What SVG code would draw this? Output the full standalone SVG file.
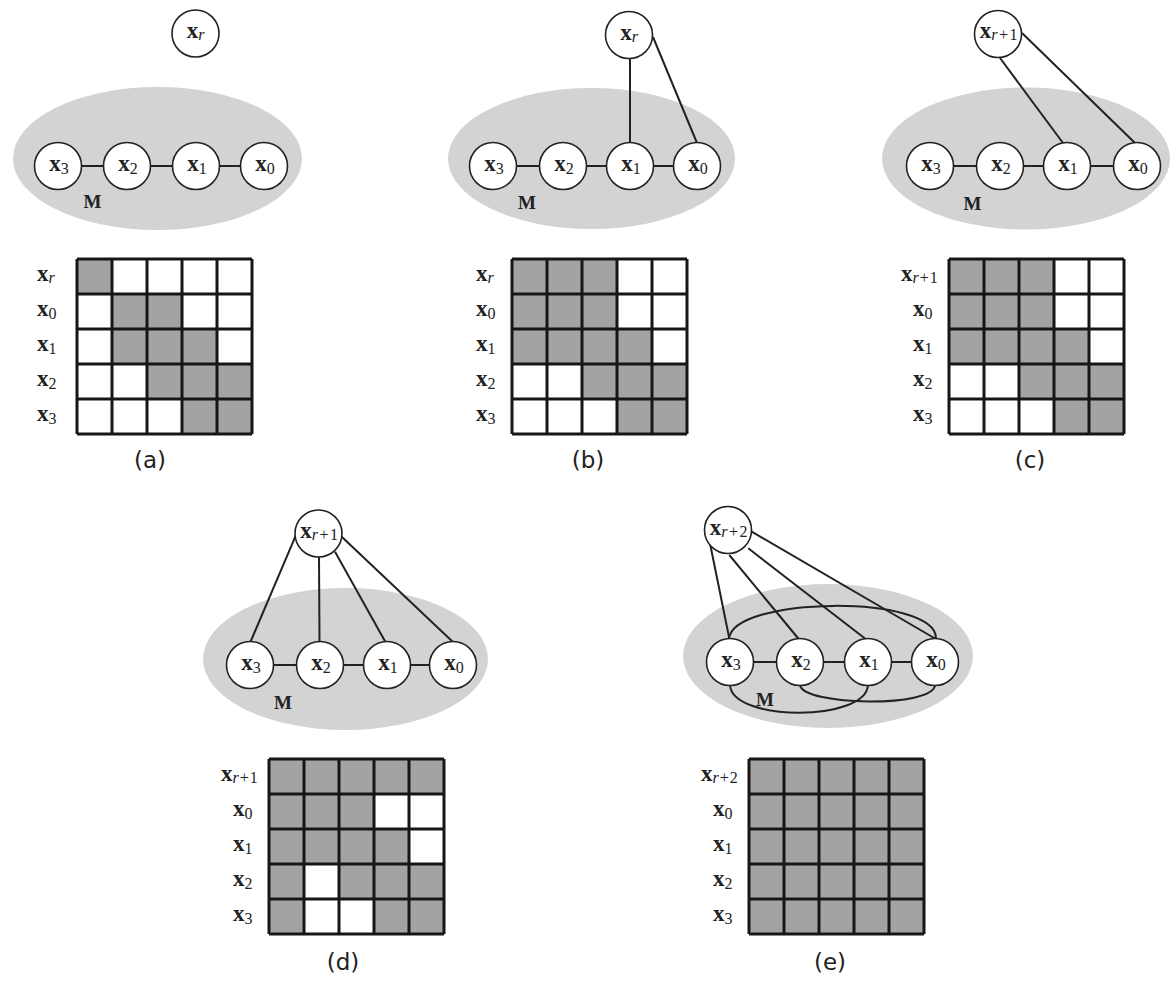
<svg xmlns="http://www.w3.org/2000/svg" xmlns:xlink="http://www.w3.org/1999/xlink" width="1171" height="981" viewBox="0 0 1171 981">
<style>
.bg{fill:#ffffff}
.ell{fill:#d3d3d3;stroke:none}
.node{fill:#ffffff;stroke:#222;stroke-width:1.6}
.edge{stroke:#222;stroke-width:2;fill:none}
.nl{font-family:"Liberation Serif",serif;font-weight:bold;font-size:23px;text-anchor:middle;fill:#222}
.ml{font-family:"Liberation Serif",serif;font-weight:bold;font-size:23px;fill:#222}
.sub{font-size:16px;font-weight:normal}
.it{font-style:italic}
.M{font-family:"Liberation Serif",serif;font-weight:bold;font-size:19px;text-anchor:middle;fill:#222}
.cap{font-family:"DejaVu Sans",sans-serif;font-size:23px;text-anchor:middle;fill:#222}
.g{fill:#a3a3a3}
.w{fill:#ffffff}
.grid{stroke:#161616;stroke-width:3;fill:none}
</style>
<defs>
<path id="grid" class="grid" d="M0,0V175M35,0V175M70,0V175M105,0V175M140,0V175M175,0V175M0,0H175M0,35H175M0,70H175M0,105H175M0,140H175M0,175H175"/>
</defs>
<rect class="bg" x="0" y="0" width="1171" height="981"/>

<!-- ellipses (sets M) -->
<g id="sets">
<ellipse class="ell" cx="157.5" cy="158.5" rx="144.5" ry="71.5"/>
<ellipse class="ell" cx="591.5" cy="158.5" rx="143.5" ry="70.5"/>
<ellipse class="ell" cx="1026" cy="158.5" rx="144" ry="71"/>
<ellipse class="ell" cx="345.5" cy="659" rx="142.5" ry="71"/>
<ellipse class="ell" cx="828" cy="656" rx="145" ry="72"/>
<text class="M" x="92.5" y="208">M</text>
<text class="M" x="527" y="209">M</text>
<text class="M" x="972.5" y="210">M</text>
<text class="M" x="283" y="709">M</text>
<text class="M" x="765" y="706">M</text>
</g>

<!-- connectors -->
<g id="connectors">
<!-- (a) -->
<line class="edge" x1="81.5" y1="166" x2="103.5" y2="166"/>
<line class="edge" x1="150.5" y1="166" x2="172.5" y2="166"/>
<line class="edge" x1="219.5" y1="166" x2="240.5" y2="166"/>
<!-- (b) -->
<line class="edge" x1="516.5" y1="166" x2="539.5" y2="166"/>
<line class="edge" x1="586.5" y1="166" x2="606.5" y2="166"/>
<line class="edge" x1="653.5" y1="166" x2="673.5" y2="166"/>
<line class="edge" x1="630" y1="58.5" x2="630" y2="142.5"/>
<line class="edge" x1="653" y1="37" x2="697" y2="143"/>
<!-- (c) -->
<line class="edge" x1="953.5" y1="166" x2="976.5" y2="166"/>
<line class="edge" x1="1023.5" y1="166" x2="1043.5" y2="166"/>
<line class="edge" x1="1090.5" y1="166" x2="1113.5" y2="166"/>
<line class="edge" x1="1000" y1="58" x2="1063" y2="143"/>
<line class="edge" x1="1022" y1="33" x2="1135" y2="143"/>
<!-- (d) -->
<line class="edge" x1="273.5" y1="665" x2="296.5" y2="665"/>
<line class="edge" x1="343.5" y1="665" x2="363.5" y2="665"/>
<line class="edge" x1="410.5" y1="665" x2="429.5" y2="665"/>
<line class="edge" x1="296.7" y1="533.3" x2="250" y2="643"/>
<line class="edge" x1="319" y1="556.7" x2="319.5" y2="642"/>
<line class="edge" x1="335" y1="551.7" x2="386" y2="643"/>
<line class="edge" x1="341.7" y1="536.7" x2="454" y2="643"/>
<!-- (e) -->
<line class="edge" x1="753.5" y1="662" x2="776.5" y2="662"/>
<line class="edge" x1="823.5" y1="662" x2="844.5" y2="662"/>
<line class="edge" x1="891.5" y1="662" x2="911.5" y2="662"/>
<line class="edge" x1="708.3" y1="535" x2="729.3" y2="638.5"/>
<line class="edge" x1="729.3" y1="555" x2="798.3" y2="638.5"/>
<line class="edge" x1="748.3" y1="548.3" x2="865" y2="638.5"/>
<line class="edge" x1="751.7" y1="531.7" x2="935" y2="638.5"/>
<path class="edge" d="M729,639 C732,596 935,594 936,638"/>
<path class="edge" d="M730,685 C732,722 866,722 868,685"/>
<path class="edge" d="M800,685 C803,706 934,708 935,685"/>
</g>

<!-- panel (a) nodes -->
<g id="a-xr"><circle class="node" cx="195.5" cy="33.5" r="23.5"/><text class="nl" x="195.5" y="38">x<tspan class="sub it" dy="2">r</tspan></text></g>
<g id="a-x3"><circle class="node" cx="58" cy="166" r="23.5"/><text class="nl" x="59" y="171">x<tspan class="sub" dy="3">3</tspan></text></g>
<g id="a-x2"><circle class="node" cx="127" cy="166" r="23.5"/><text class="nl" x="128" y="171">x<tspan class="sub" dy="3">2</tspan></text></g>
<g id="a-x1"><circle class="node" cx="196" cy="166" r="23.5"/><text class="nl" x="197" y="171">x<tspan class="sub" dy="3">1</tspan></text></g>
<g id="a-x0"><circle class="node" cx="264" cy="166" r="23.5"/><text class="nl" x="265" y="171">x<tspan class="sub" dy="3">0</tspan></text></g>

<!-- panel (b) nodes -->
<g id="b-xr"><circle class="node" cx="629" cy="35" r="23.5"/><text class="nl" x="629" y="39.5">x<tspan class="sub it" dy="2">r</tspan></text></g>
<g id="b-x3"><circle class="node" cx="493" cy="166" r="23.5"/><text class="nl" x="494" y="171">x<tspan class="sub" dy="3">3</tspan></text></g>
<g id="b-x2"><circle class="node" cx="563" cy="166" r="23.5"/><text class="nl" x="564" y="171">x<tspan class="sub" dy="3">2</tspan></text></g>
<g id="b-x1"><circle class="node" cx="630" cy="166" r="23.5"/><text class="nl" x="631" y="171">x<tspan class="sub" dy="3">1</tspan></text></g>
<g id="b-x0"><circle class="node" cx="697" cy="166" r="23.5"/><text class="nl" x="698" y="171">x<tspan class="sub" dy="3">0</tspan></text></g>

<!-- panel (c) nodes -->
<g id="c-xr1"><circle class="node" cx="998" cy="34" r="23.5"/><text class="nl" x="999.5" y="38">x<tspan class="sub" dy="2" letter-spacing="1.5"><tspan class="it">r</tspan>+1</tspan></text></g>
<g id="c-x3"><circle class="node" cx="930" cy="166" r="23.5"/><text class="nl" x="931" y="171">x<tspan class="sub" dy="3">3</tspan></text></g>
<g id="c-x2"><circle class="node" cx="1000" cy="166" r="23.5"/><text class="nl" x="1001" y="171">x<tspan class="sub" dy="3">2</tspan></text></g>
<g id="c-x1"><circle class="node" cx="1067" cy="166" r="23.5"/><text class="nl" x="1068" y="171">x<tspan class="sub" dy="3">1</tspan></text></g>
<g id="c-x0"><circle class="node" cx="1137" cy="166" r="23.5"/><text class="nl" x="1138" y="171">x<tspan class="sub" dy="3">0</tspan></text></g>

<!-- panel (d) nodes -->
<g id="d-xr1"><circle class="node" cx="318.5" cy="533.5" r="23.5"/><text class="nl" x="320" y="538">x<tspan class="sub" dy="2" letter-spacing="1.5"><tspan class="it">r</tspan>+1</tspan></text></g>
<g id="d-x3"><circle class="node" cx="250" cy="665" r="23.5"/><text class="nl" x="251" y="670">x<tspan class="sub" dy="3">3</tspan></text></g>
<g id="d-x2"><circle class="node" cx="320" cy="665" r="23.5"/><text class="nl" x="321" y="670">x<tspan class="sub" dy="3">2</tspan></text></g>
<g id="d-x1"><circle class="node" cx="387" cy="665" r="23.5"/><text class="nl" x="388" y="670">x<tspan class="sub" dy="3">1</tspan></text></g>
<g id="d-x0"><circle class="node" cx="453" cy="665" r="23.5"/><text class="nl" x="454" y="670">x<tspan class="sub" dy="3">0</tspan></text></g>

<!-- panel (e) nodes -->
<g id="e-xr2"><circle class="node" cx="728" cy="530" r="23.5"/><text class="nl" x="729.5" y="534.5">x<tspan class="sub" dy="2" letter-spacing="1.5"><tspan class="it">r</tspan>+2</tspan></text></g>
<g id="e-x3"><circle class="node" cx="730" cy="662" r="23.5"/><text class="nl" x="731" y="667">x<tspan class="sub" dy="3">3</tspan></text></g>
<g id="e-x2"><circle class="node" cx="800" cy="662" r="23.5"/><text class="nl" x="801" y="667">x<tspan class="sub" dy="3">2</tspan></text></g>
<g id="e-x1"><circle class="node" cx="868" cy="662" r="23.5"/><text class="nl" x="869" y="667">x<tspan class="sub" dy="3">1</tspan></text></g>
<g id="e-x0"><circle class="node" cx="935" cy="662" r="23.5"/><text class="nl" x="936" y="667">x<tspan class="sub" dy="3">0</tspan></text></g>

<!-- matrix (a) -->
<g id="matrix-a">
<rect class="w" x="77" y="259" width="175" height="175"/>
<rect class="g" x="77" y="259" width="35" height="35"/>
<rect class="g" x="112" y="294" width="70" height="70"/>
<rect class="g" x="182" y="329" width="35" height="35"/>
<rect class="g" x="147" y="364" width="105" height="35"/>
<rect class="g" x="182" y="399" width="70" height="35"/>
<use xlink:href="#grid" x="77" y="259"/>
<text class="ml" x="37" y="281">x<tspan class="sub it" dy="2">r</tspan></text>
<text class="ml" x="37" y="316">x<tspan class="sub" dy="3">0</tspan></text>
<text class="ml" x="37" y="351">x<tspan class="sub" dy="3">1</tspan></text>
<text class="ml" x="37" y="386">x<tspan class="sub" dy="3">2</tspan></text>
<text class="ml" x="37" y="421">x<tspan class="sub" dy="3">3</tspan></text>
<text class="cap" x="150" y="468">(a)</text>
</g>

<!-- matrix (b) -->
<g id="matrix-b">
<rect class="w" x="512" y="259" width="175" height="175"/>
<rect class="g" x="512" y="259" width="105" height="70"/>
<rect class="g" x="512" y="329" width="140" height="35"/>
<rect class="g" x="582" y="364" width="105" height="35"/>
<rect class="g" x="617" y="399" width="70" height="35"/>
<use xlink:href="#grid" x="512" y="259"/>
<text class="ml" x="476" y="281">x<tspan class="sub it" dy="2">r</tspan></text>
<text class="ml" x="476" y="316">x<tspan class="sub" dy="3">0</tspan></text>
<text class="ml" x="476" y="351">x<tspan class="sub" dy="3">1</tspan></text>
<text class="ml" x="476" y="386">x<tspan class="sub" dy="3">2</tspan></text>
<text class="ml" x="476" y="421">x<tspan class="sub" dy="3">3</tspan></text>
<text class="cap" x="588" y="468">(b)</text>
</g>

<!-- matrix (c) -->
<g id="matrix-c">
<rect class="w" x="949" y="259" width="175" height="175"/>
<rect class="g" x="949" y="259" width="105" height="70"/>
<rect class="g" x="949" y="329" width="140" height="35"/>
<rect class="g" x="1019" y="364" width="105" height="35"/>
<rect class="g" x="1054" y="399" width="70" height="35"/>
<use xlink:href="#grid" x="949" y="259"/>
<text class="ml" x="901" y="281">x<tspan class="sub" dy="2" letter-spacing="1"><tspan class="it">r</tspan>+1</tspan></text>
<text class="ml" x="913" y="316">x<tspan class="sub" dy="3">0</tspan></text>
<text class="ml" x="913" y="351">x<tspan class="sub" dy="3">1</tspan></text>
<text class="ml" x="913" y="386">x<tspan class="sub" dy="3">2</tspan></text>
<text class="ml" x="913" y="421">x<tspan class="sub" dy="3">3</tspan></text>
<text class="cap" x="1030" y="468">(c)</text>
</g>

<!-- matrix (d) -->
<g id="matrix-d">
<rect class="g" x="269" y="759" width="175" height="175"/>
<rect class="w" x="374" y="794" width="70" height="35"/>
<rect class="w" x="409" y="829" width="35" height="35"/>
<rect class="w" x="304" y="864" width="35" height="35"/>
<rect class="w" x="304" y="899" width="70" height="35"/>
<use xlink:href="#grid" x="269" y="759"/>
<text class="ml" x="221" y="781">x<tspan class="sub" dy="2" letter-spacing="1"><tspan class="it">r</tspan>+1</tspan></text>
<text class="ml" x="233" y="816">x<tspan class="sub" dy="3">0</tspan></text>
<text class="ml" x="233" y="851">x<tspan class="sub" dy="3">1</tspan></text>
<text class="ml" x="233" y="886">x<tspan class="sub" dy="3">2</tspan></text>
<text class="ml" x="233" y="921">x<tspan class="sub" dy="3">3</tspan></text>
<text class="cap" x="343" y="970">(d)</text>
</g>

<!-- matrix (e) -->
<g id="matrix-e">
<rect class="g" x="749" y="759" width="175" height="175"/>
<use xlink:href="#grid" x="749" y="759"/>
<text class="ml" x="701" y="781">x<tspan class="sub" dy="2" letter-spacing="1"><tspan class="it">r</tspan>+2</tspan></text>
<text class="ml" x="713" y="816">x<tspan class="sub" dy="3">0</tspan></text>
<text class="ml" x="713" y="851">x<tspan class="sub" dy="3">1</tspan></text>
<text class="ml" x="713" y="886">x<tspan class="sub" dy="3">2</tspan></text>
<text class="ml" x="713" y="921">x<tspan class="sub" dy="3">3</tspan></text>
<text class="cap" x="830" y="970">(e)</text>
</g>
</svg>
